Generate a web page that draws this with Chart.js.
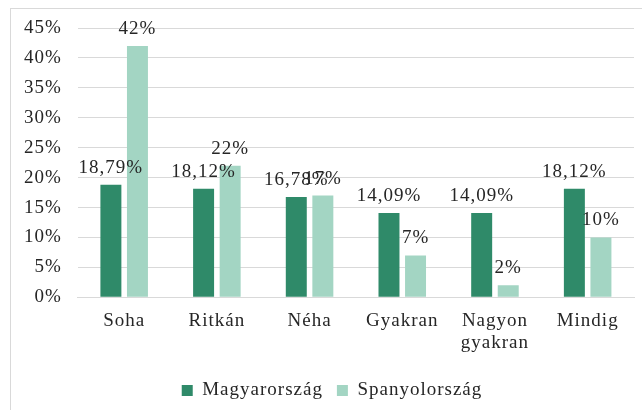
<!DOCTYPE html>
<html>
<head>
<meta charset="utf-8">
<script src="https://cdn.jsdelivr.net/npm/chart.js@4"></script>
<style>
  html, body { margin: 0; padding: 0; background: #fff; overflow: hidden; font-family: "Liberation Serif", serif; }
  #frame { position: absolute; left: 10px; top: 8px; width: 700px; height: 500px; border: 1px solid #d9d9d9; }
  #chart { position: absolute; left: 0; top: 0; }
</style>
</head>
<body>
<div id="frame"></div>
<canvas id="chart" width="642" height="410"></canvas>
<script>
const categories = ['Soha', 'Ritkán', 'Néha', 'Gyakran', ['Nagyon', 'gyakran'], 'Mindig'];
const hungary = [18.79, 18.12, 16.78, 14.09, 14.09, 18.12];
const spain = [42, 22, 17, 7, 2, 10];
const seriesNames = ['Magyarország', 'Spanyolország'];
const yTicks = [0, 5, 10, 15, 20, 25, 30, 35, 40, 45];

const textColor = '#262626';
const fontFamily = "'Liberation Serif', 'Times New Roman', serif";

// format values the way the source does: 18,79% / 42%
function formatValue(v) {
  return Number.isInteger(v) ? v + '%' : v.toFixed(2).replace('.', ',') + '%';
}

// wider letter spacing, the original text looks stretched
const spacingPlugin = {
  id: 'spacing',
  beforeLayout(chart) { chart.ctx.letterSpacing = '1px'; },
  beforeDraw(chart) { chart.ctx.letterSpacing = '1px'; }
};

// legend sits a bit right of the canvas centre in the original
const legendShift = {
  id: 'legendShift',
  afterLayout(chart) {
    chart.legend.left += 11;
    chart.legend.right += 11;
  }
};

// value labels above bars
const valueLabels = {
  id: 'valueLabels',
  afterDatasetsDraw(chart) {
    const ctx = chart.ctx;
    ctx.save();
    ctx.font = '19px ' + fontFamily;
    ctx.fillStyle = textColor;
    ctx.textAlign = 'center';
    ctx.textBaseline = 'alphabetic';
    chart.data.datasets.forEach((ds, i) => {
      chart.getDatasetMeta(i).data.forEach((bar, j) => {
        ctx.fillText(formatValue(ds.data[j]), bar.x, bar.y - 12);
      });
    });
    ctx.restore();
  }
};

function draw() {
  new Chart(document.getElementById('chart'), {
    type: 'bar',
    data: {
      labels: categories,
      datasets: [
        { label: seriesNames[0], data: hungary, backgroundColor: '#2f8a69' },
        { label: seriesNames[1], data: spain, backgroundColor: '#a3d5c3' }
      ]
    },
    options: {
      responsive: false,
      animation: false,
      events: [],
      categoryPercentage: 0.573,
      barPercentage: 0.79,
      layout: { padding: { left: 8, right: 8, top: 28, bottom: 0 } },
      scales: {
        x: {
          grid: { display: false, drawTicks: false },
          border: { color: '#d9d9d9' },
          ticks: { color: textColor, font: { family: fontFamily, size: 19, lineHeight: 1.15 }, padding: 13, maxRotation: 0 }
        },
        y: {
          min: 0,
          max: 45,
          afterBuildTicks(axis) { axis.ticks = yTicks.map(v => ({ value: v })); },
          grid: { color: '#d9d9d9', drawTicks: false },
          border: { display: false },
          ticks: {
            color: textColor,
            font: { family: fontFamily, size: 19 },
            padding: 16,
            callback: v => v + '%'
          }
        }
      },
      plugins: {
        legend: {
          position: 'bottom',
          labels: {
            color: textColor,
            font: { family: fontFamily, size: 19 },
            boxWidth: 11,
            boxHeight: 11,
            padding: 14
          }
        },
        tooltip: { enabled: false }
      }
    },
    plugins: [spacingPlugin, legendShift, valueLabels]
  });
}

document.fonts.load("19px 'Liberation Serif'").then(draw, draw);
</script>
</body>
</html>
